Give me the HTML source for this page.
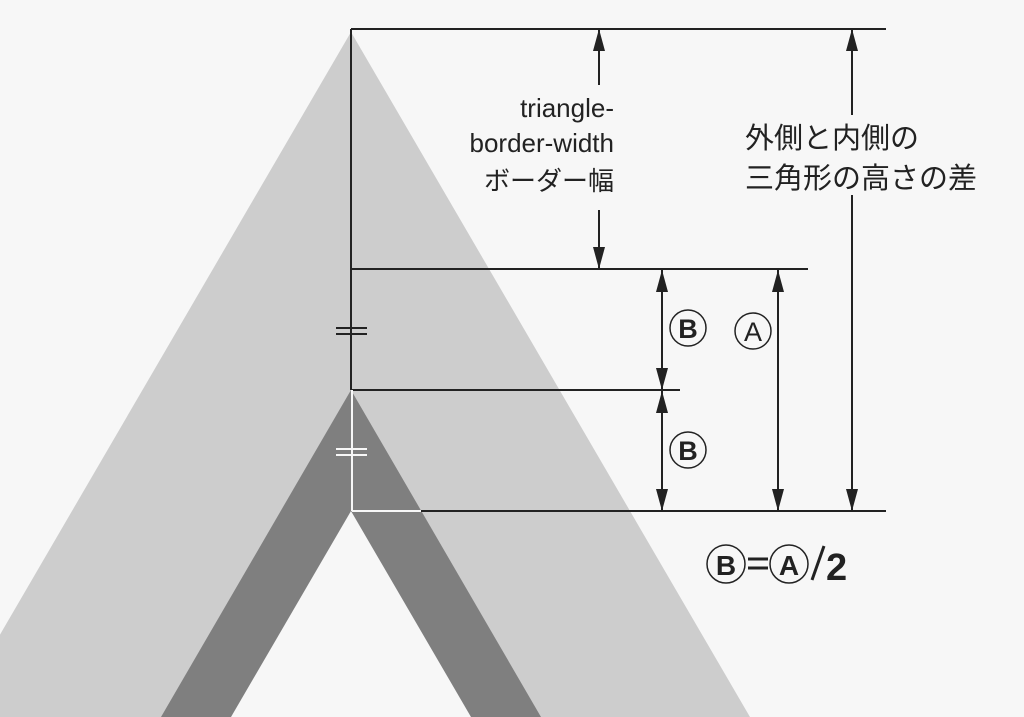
<!DOCTYPE html>
<html><head><meta charset="utf-8"><style>
html,body{margin:0;padding:0;background:#f7f7f7;}
svg{display:block}
text{font-family:"Liberation Sans","Noto Sans CJK JP",sans-serif;fill:#222;}
</style></head><body>
<svg width="1024" height="717" viewBox="0 0 1024 717" xmlns="http://www.w3.org/2000/svg">
<defs>
<marker id="a" viewBox="0 0 22 12" refX="22" refY="6" markerWidth="22" markerHeight="12" markerUnits="userSpaceOnUse" orient="auto">
<path d="M0,0 L22,6 L0,12 z" fill="#222"/></marker>
</defs>
<rect width="1024" height="717" fill="#f7f7f7"/>
<polygon points="351,32 750,717 -48,717" fill="#cdcdcd"/>
<polygon points="351,390 541,717 161,717" fill="#7f7f7f"/>
<polygon points="351,511 471,717 231,717" fill="#f7f7f7"/>
<g stroke="#222" stroke-width="2" fill="none">
<line x1="351" y1="29" x2="886" y2="29"/>
<line x1="351" y1="269" x2="808" y2="269"/>
<line x1="351" y1="390" x2="680" y2="390"/>
<line x1="421" y1="511" x2="886" y2="511"/>
<line x1="351" y1="29" x2="351" y2="390"/>
<line x1="336" y1="328" x2="367" y2="328"/>
<line x1="336" y1="334" x2="367" y2="334"/>
<line x1="599" y1="85" x2="599" y2="29" marker-end="url(#a)"/>
<line x1="599" y1="210" x2="599" y2="269" marker-end="url(#a)"/>
<line x1="662" y1="330" x2="662" y2="270" marker-end="url(#a)"/>
<line x1="662" y1="330" x2="662" y2="390" marker-end="url(#a)"/>
<line x1="662" y1="450" x2="662" y2="391" marker-end="url(#a)"/>
<line x1="662" y1="450" x2="662" y2="511" marker-end="url(#a)"/>
<line x1="778" y1="390" x2="778" y2="270" marker-end="url(#a)"/>
<line x1="778" y1="390" x2="778" y2="511" marker-end="url(#a)"/>
<line x1="852" y1="115" x2="852" y2="29" marker-end="url(#a)"/>
<line x1="852" y1="195" x2="852" y2="511" marker-end="url(#a)"/>
</g>
<g stroke="#f7f7f7" stroke-width="2">
<line x1="352" y1="390" x2="352" y2="511"/>
<line x1="352" y1="511" x2="421" y2="511"/>
<line x1="336" y1="449" x2="367" y2="449"/>
<line x1="336" y1="455" x2="367" y2="455"/>
</g>
<g font-size="26" text-anchor="end">
<text x="614" y="117">triangle-</text>
<text x="614" y="152">border-width</text>
<text x="614" y="190">ボーダー幅</text>
</g>
<g font-size="29">
<text x="745" y="148">外側と内側の</text>
<text x="745" y="188">三角形の高さの差</text>
</g>
<g fill="none" stroke="#222" stroke-width="1.5">
<circle cx="688" cy="328" r="18"/>
<circle cx="753" cy="331" r="18"/>
<circle cx="688" cy="450" r="18"/>
<circle cx="726" cy="564" r="19"/>
<circle cx="789" cy="564" r="19"/>
</g>
<g font-size="27" text-anchor="middle" font-weight="bold">
<text x="688" y="338">B</text>
<text x="688" y="460">B</text>
<text x="726" y="575" font-size="28">B</text>
</g>
<g font-size="27" text-anchor="middle">
<text x="753" y="341">A</text>
<text x="789" y="575" font-size="28" font-weight="bold">A</text>
</g>
<g stroke="#222" stroke-width="3">
<line x1="748" y1="559" x2="768" y2="559"/>
<line x1="748" y1="568" x2="768" y2="568"/>
<line x1="812" y1="580" x2="824" y2="546"/>
</g>
<text x="826" y="580" font-size="38" font-weight="bold">2</text>
</svg>
</body></html>
